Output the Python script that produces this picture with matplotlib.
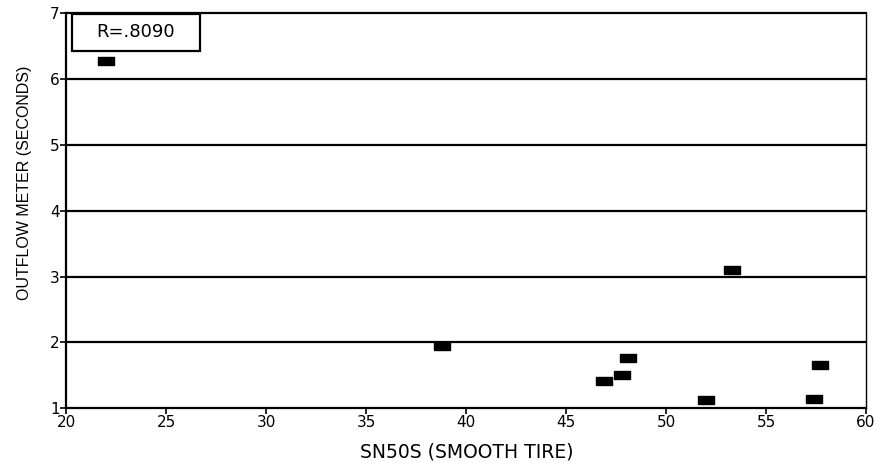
import matplotlib
matplotlib.use("Agg")
import matplotlib.pyplot as plt
from matplotlib.patches import Rectangle

plt.rcParams['font.family'] = ['DejaVu Sans']

# Data
sn50s = [22.0, 38.8, 46.9, 47.8, 48.1, 52.0, 53.3, 57.4, 57.7]
outflow = [6.27, 1.94, 1.42, 1.50, 1.77, 1.12, 3.10, 1.14, 1.66]
x_ticks = [20, 25, 30, 35, 40, 45, 50, 55, 60]
y_ticks = [1, 2, 3, 4, 5, 6, 7]
r_label = "R=.8090"
x_label = "SN50S (SMOOTH TIRE)"
y_label = "OUTFLOW METER (SECONDS)"

fig = plt.figure(figsize=(8.81, 4.67), dpi=100)
ax = fig.add_axes([0.0754, 0.1257, 0.9076, 0.8465])

rect_marker = [(-1, -0.58), (1, -0.58), (1, 0.58), (-1, 0.58), (-1, -0.58)]
ax.plot(sn50s, outflow, linestyle='none', marker=rect_marker, markersize=11,
        color='black', zorder=3)

ax.set_xlim(20, 60)
ax.set_ylim(1, 7)
ax.set_xticks(x_ticks)
ax.set_yticks(y_ticks)
for y in y_ticks[1:-1]:
    ax.axhline(y, color='black', linewidth=1.6, zorder=1)

for s in ['left', 'bottom', 'top']:
    ax.spines[s].set_linewidth(1.6)
ax.spines['right'].set_linewidth(1.0)
ax.tick_params(axis='both', direction='out', length=4, width=1.2,
               labelsize=11, pad=1)

ax.set_xlabel(x_label, fontsize=13.5)
ax.xaxis.set_label_coords(0.501, -0.086)
ax.set_ylabel(y_label, fontsize=11.5, family=['Liberation Sans', 'DejaVu Sans'])
ax.yaxis.set_label_coords(-0.043, 0.57)

ax.add_patch(Rectangle((0.007, 0.904), 0.16, 0.094, transform=ax.transAxes,
                       fill=False, edgecolor='black', linewidth=1.6,
                       zorder=4, clip_on=False))
ax.text(0.087, 0.951, r_label, transform=ax.transAxes, ha='center',
        va='center', fontsize=13)

fig.savefig("out.png", dpi=100)
